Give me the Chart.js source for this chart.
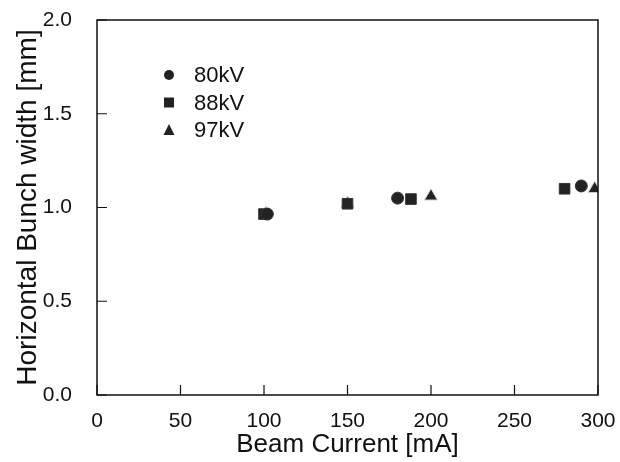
<!DOCTYPE html>
<html>
<head>
<meta charset="utf-8">
<script src="https://cdn.jsdelivr.net/npm/chart.js@4"></script>
<style>
  html, body { margin: 0; padding: 0; background: #fff; }
  #wrap { width: 620px; height: 462px; }
</style>
</head>
<body>
<div id="wrap"><canvas id="bunchChart" width="620" height="462"></canvas></div>
<script>
// beam current [mA] and horizontal bunch width [mm] for each voltage
const current80 = [102, 180, 290];
const width80 = [0.965, 1.05, 1.115];
const current88 = [100, 150, 188, 280];
const width88 = [0.965, 1.02, 1.045, 1.10];
const current97 = [101, 150, 200, 298];
const width97 = [0.965, 1.02, 1.06, 1.10];

const xTicks = [0, 50, 100, 150, 200, 250, 300];
const yTicks = [0, 0.5, 1.0, 1.5, 2.0];
const seriesNames = ['80kV', '88kV', '97kV'];

const fontFamily = '"Liberation Sans", Arial, sans-serif';

function toPoints(xs, ys) {
    return xs.map((x, i) => ({ x: x, y: ys[i] }));
}

// frame + inward ticks + legend drawn by hand like the original plot
const framePlugin = {
    id: 'frame',
    afterDraw(chart) {
        const ctx = chart.ctx;
        const a = chart.chartArea;
        const xs = chart.scales.x;
        const ys = chart.scales.y;
        ctx.save();
        ctx.strokeStyle = '#111';
        ctx.lineWidth = 1.5;
        ctx.strokeRect(a.left, a.top, a.right - a.left, a.bottom - a.top);
        ctx.lineWidth = 1.2;
        ctx.beginPath();
        xTicks.forEach(v => {
            const px = xs.getPixelForValue(v);
            ctx.moveTo(px, a.bottom);
            ctx.lineTo(px, a.bottom - 10);
        });
        yTicks.forEach(v => {
            const py = ys.getPixelForValue(v);
            ctx.moveTo(a.left, py);
            ctx.lineTo(a.left + 10, py);
        });
        ctx.stroke();

        // legend
        ctx.font = '22px ' + fontFamily;
        ctx.textBaseline = 'middle';
        chart.data.datasets.forEach((ds, i) => {
            const y = 75 + i * 27.5;
            ctx.fillStyle = '#222';
            ctx.beginPath();
            if (ds.pointStyle === 'circle') {
                ctx.arc(169, y, 5, 0, Math.PI * 2);
            } else if (ds.pointStyle === 'rect') {
                ctx.rect(164, y - 5, 10, 10);
            } else {
                ctx.moveTo(169, y - 6);
                ctx.lineTo(174.5, y + 5);
                ctx.lineTo(163.5, y + 5);
                ctx.closePath();
            }
            ctx.fill();
            ctx.fillStyle = '#111';
            ctx.fillText(ds.label, 194, y + 1);
        });
        ctx.restore();
    }
};

new Chart(document.getElementById('bunchChart'), {
    type: 'scatter',
    data: {
        datasets: [
            {
                label: seriesNames[0],
                data: toPoints(current80, width80),
                pointStyle: 'circle',
                pointRadius: 6,
                backgroundColor: '#222',
                borderColor: '#333',
                borderWidth: 1
            },
            {
                label: seriesNames[1],
                data: toPoints(current88, width88),
                pointStyle: 'rect',
                pointRadius: 7.5,
                backgroundColor: '#222',
                borderColor: '#333',
                borderWidth: 1
            },
            {
                label: seriesNames[2],
                data: toPoints(current97, width97),
                pointStyle: 'triangle',
                pointRadius: 7.5,
                backgroundColor: '#222',
                borderColor: '#ccc',
                borderWidth: 1
            }
        ]
    },
    options: {
        responsive: false,
        animation: false,
        layout: { padding: { top: 20, right: 22, left: 0, bottom: 0 } },
        plugins: {
            legend: { display: false },
            tooltip: { enabled: false }
        },
        scales: {
            x: {
                type: 'linear',
                min: 0,
                max: 300,
                grid: { display: false },
                border: { display: false },
                afterBuildTicks: s => { s.ticks = xTicks.map(v => ({ value: v })); },
                afterFit: s => { s.height = 67; s.paddingRight = 0; },
                ticks: {
                    color: '#111',
                    padding: 6,
                    font: { family: fontFamily, size: 21 }
                },
                title: {
                    display: true,
                    text: 'Beam Current [mA]',
                    color: '#111',
                    padding: { top: 0, bottom: 2 },
                    font: { family: fontFamily, size: 26 }
                }
            },
            y: {
                type: 'linear',
                min: 0,
                max: 2.0,
                grid: { display: false },
                border: { display: false },
                afterBuildTicks: s => { s.ticks = yTicks.map(v => ({ value: v })); },
                afterFit: s => { s.width = 97; s.paddingTop = 0; s.paddingBottom = 0; },
                ticks: {
                    color: '#111',
                    padding: 17,
                    font: { family: fontFamily, size: 21 },
                    callback: v => v.toFixed(1)
                },
                title: {
                    display: true,
                    text: 'Horizontal Bunch width [mm]',
                    color: '#111',
                    padding: { top: 11, bottom: 0 },
                    font: { family: fontFamily, size: 28 }
                }
            }
        }
    },
    plugins: [framePlugin]
});
</script>
</body>
</html>
